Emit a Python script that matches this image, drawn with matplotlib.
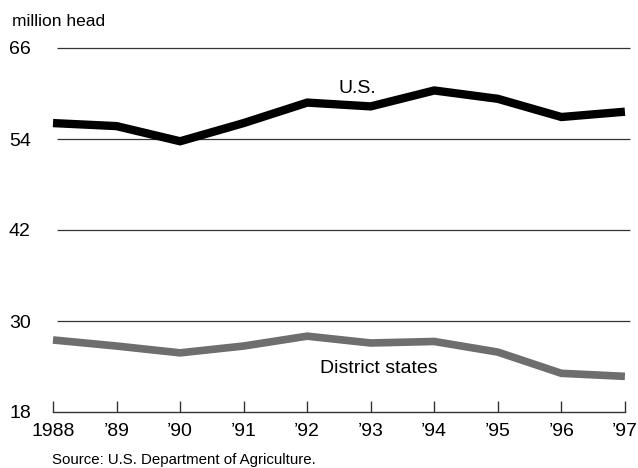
import matplotlib
matplotlib.use("Agg")
import matplotlib.pyplot as plt

# Cattle inventory, million head
years = [1988, 1989, 1990, 1991, 1992, 1993, 1994, 1995, 1996, 1997]
year_labels = ["1988", "\u201989", "\u201990", "\u201991", "\u201992",
               "\u201993", "\u201994", "\u201995", "\u201996", "\u201997"]
us_head = [56.1, 55.7, 53.7, 56.1, 58.8, 58.3, 60.4, 59.3, 56.9, 57.6]
district_head = [27.5, 26.7, 25.8, 26.7, 28.0, 27.1, 27.3, 25.9, 23.1, 22.7]
y_ticks = [18, 30, 42, 54, 66]

plt.rcParams['font.family'] = ['Liberation Sans', 'DejaVu Sans']

fig = plt.figure(figsize=(6.38, 4.68), dpi=100)
ax = fig.add_axes([53 / 638, 56 / 468, 577 / 638, 364 / 468])

# horizontal rules at every tick above the baseline
ax.hlines(y_ticks[1:], 1988.06, 1997.08, color="#333333", lw=0.9, clip_on=False)

ax.plot(years, us_head, color="black", lw=6, solid_joinstyle="miter",
        solid_capstyle="butt", clip_on=False)
ax.plot(years, district_head, color="#6e6e6e", lw=5.5, solid_joinstyle="miter",
        solid_capstyle="butt", clip_on=False)

ax.text(1992.5, 60.7, "U.S.", fontsize=14, ha="left", va="center")
ax.text(1992.2, 23.7, "District states", fontsize=14, ha="left", va="center")

ax.set_xlim(1988, 1997.08)
ax.set_ylim(18, 66)

for side in ["top", "right", "left"]:
    ax.spines[side].set_visible(False)
ax.spines["bottom"].set_bounds(1988, 1997)
ax.spines["bottom"].set_linewidth(1.0)
ax.spines["bottom"].set_color("#333333")

ax.set_xticks(years)
ax.set_xticklabels(year_labels, fontsize=14)
ax.tick_params(axis="x", direction="in", length=8, width=1.0, color="#333333", pad=8)

ax.set_yticks(y_ticks)
ax.set_yticklabels([str(v) for v in y_ticks], fontsize=14)
ax.tick_params(axis="y", length=0, pad=16)

fig.text(12 / 638, 1 - 22 / 468, "million head", fontsize=12.5, ha="left", va="center")
fig.text(52 / 638, 1 - 460 / 468, "Source: U.S. Department of Agriculture.",
         fontsize=10.8, ha="left", va="center")

fig.savefig("out.png", dpi=100)
